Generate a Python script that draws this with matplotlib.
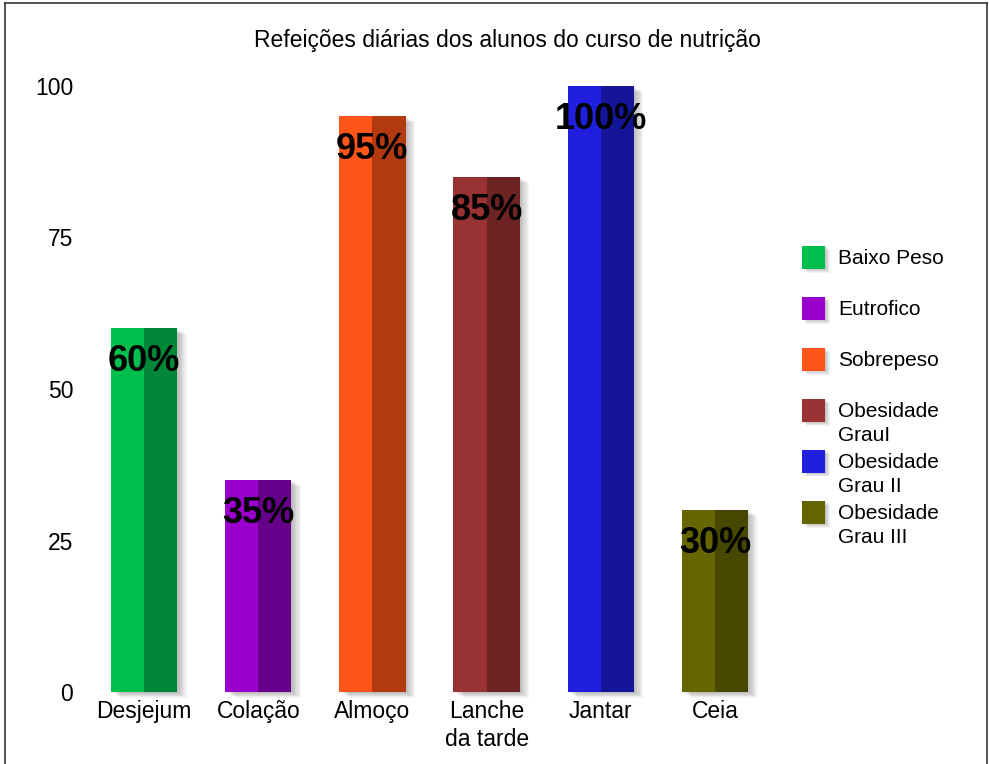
import matplotlib
matplotlib.use("Agg")
import matplotlib.pyplot as plt
from matplotlib.patches import Rectangle
from matplotlib.lines import Line2D
from matplotlib.transforms import offset_copy
import numpy as np

plt.rcParams['font.family'] = ['Liberation Sans', 'DejaVu Sans']

categories = ["Desjejum", "Colação", "Almoço", "Lanche\nda tarde", "Jantar", "Ceia"]
values = [60, 35, 95, 85, 100, 30]
value_labels = ["60%", "35%", "95%", "85%", "100%", "30%"]
series_names = ["Baixo Peso", "Eutrofico", "Sobrepeso", "Obesidade\nGrauI",
                "Obesidade\nGrau II", "Obesidade\nGrau III"]
light_colors = ["#00BF4F", "#9900CC", "#FF5519", "#993333", "#1F1FDD", "#666600"]
dark_colors = ["#008737", "#66008A", "#B33A10", "#6B2323", "#15159A", "#474700"]
yticks = [0, 25, 50, 75, 100]
title = "Refeições diárias dos alunos do curso de nutrição"

W, H = 989, 764
fig = plt.figure(figsize=(W / 100, H / 100), dpi=100)
ax = fig.add_axes([87 / W, 1 - 692 / H, (772 - 87) / W, (692 - 86) / H])

x = np.arange(len(categories))
width = 0.58

# shadows
for k in range(1, 9):
    tr = offset_copy(ax.transData, fig=fig, x=k * 1.2, y=-k * 0.7, units='dots')
    ax.bar(x, values, width, color='#000000', alpha=0.035, transform=tr,
           linewidth=0, zorder=1, clip_on=False)

ax.bar(x, values, width, color=light_colors, linewidth=0, zorder=2, clip_on=False)
ax.bar(x + width / 4, values, width / 2, color=dark_colors, linewidth=0, zorder=3,
       clip_on=False)

for xi, v, lab in zip(x, values, value_labels):
    ax.annotate(lab, (xi, v), xytext=(0, -11.5), textcoords='offset points',
                ha='center', va='top', fontsize=26, fontweight='bold',
                color='black', zorder=5)

ax.set_xlim(-0.5, len(categories) - 0.5)
ax.set_ylim(0, 100)
ax.set_yticks(yticks)
ax.set_yticklabels([str(t) for t in yticks], fontsize=16.5)
ax.set_xticks(x)
ax.set_xticklabels(categories, fontsize=16.5, linespacing=1.27)
ax.tick_params(length=0)
ax.tick_params(axis='x', pad=6)
ax.tick_params(axis='y', pad=10)
for s in ax.spines.values():
    s.set_visible(False)

fig.text(507 / W, 1 - 40 / H, title, ha='center', va='center', fontsize=16.5)

# legend (manual)
sq = 23
for i, (name, c) in enumerate(zip(series_names, light_colors)):
    cy = 257 + i * 51
    for k in range(1, 6):
        fig.patches.append(Rectangle(((802 + k * 1.0) / W, 1 - (cy + sq / 2 + k * 0.8) / H),
                                     sq / W, sq / H, transform=fig.transFigure,
                                     facecolor='black', alpha=0.05, linewidth=0))
    fig.patches.append(Rectangle((802 / W, 1 - (cy + sq / 2) / H), sq / W, sq / H,
                                 transform=fig.transFigure, facecolor=c, linewidth=0))
    fig.text(838 / W, 1 - (cy - 8) / H, name, ha='left', va='top', fontsize=15,
             linespacing=1.34)

# outer border
for xs, ys in [((5, 987), (3, 3)), ((5, 5), (3, 764)), ((987, 987), (3, 764))]:
    fig.add_artist(Line2D([xx / W for xx in xs], [1 - yy / H for yy in ys],
                          transform=fig.transFigure, color='#333333', linewidth=1.2))

fig.savefig("out.png", dpi=100)
